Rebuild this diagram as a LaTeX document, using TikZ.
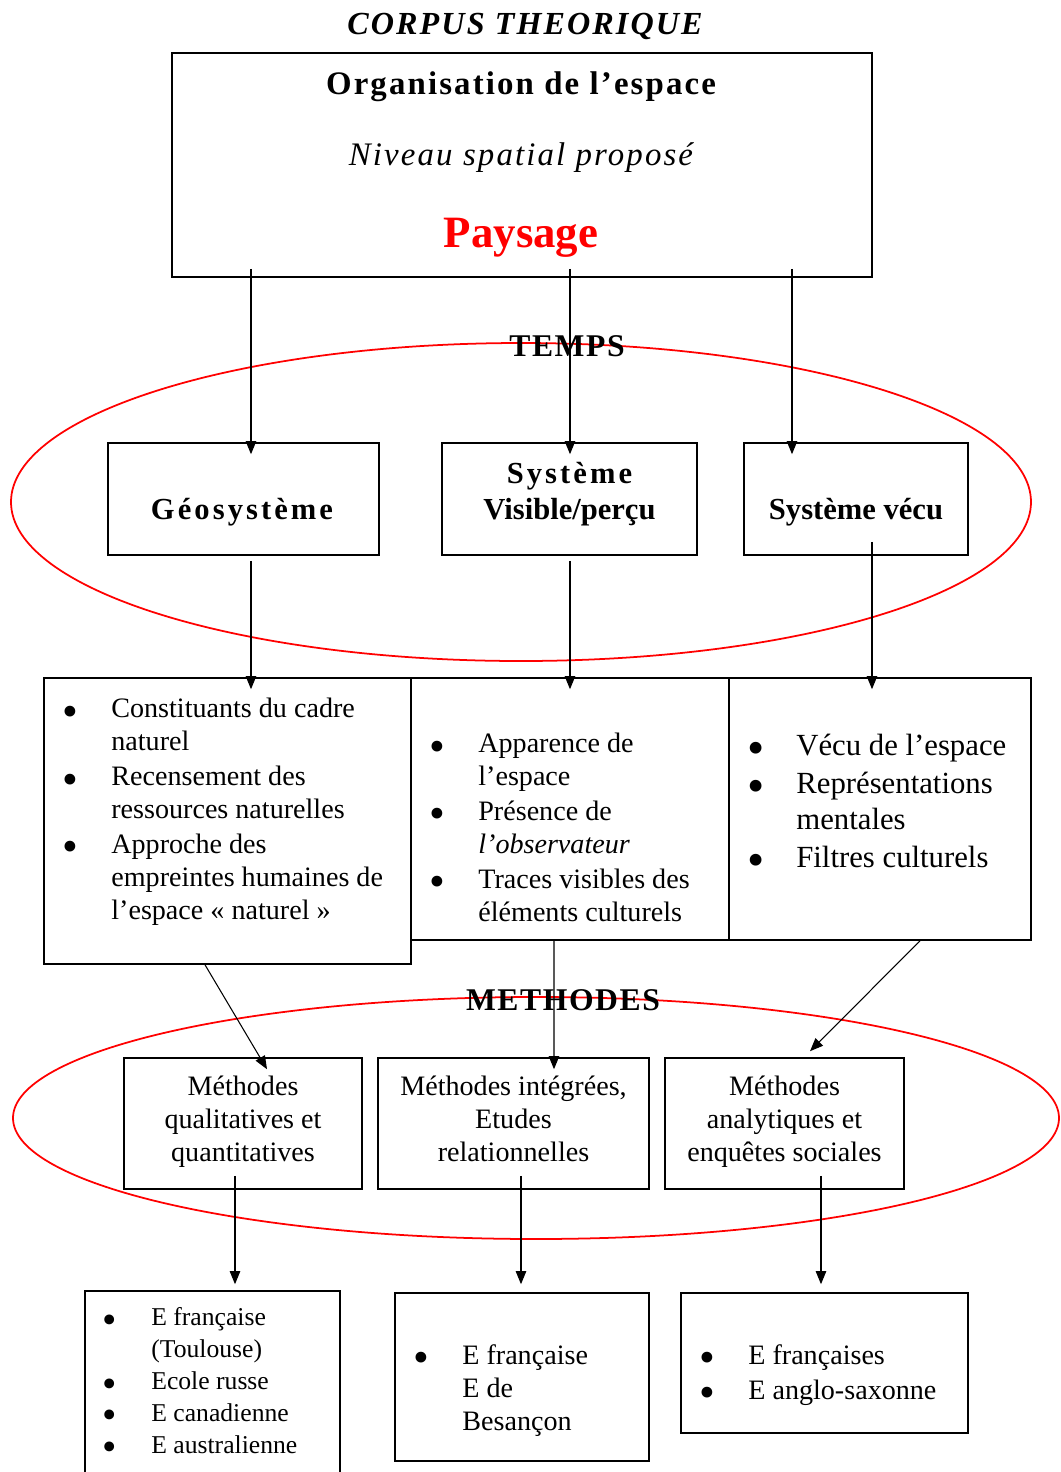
\documentclass[tikz,border=0pt]{standalone}
\usepackage{fontspec}
\usepackage{graphicx}
\setmainfont{Liberation Serif}
\newfontfamily\spacedfont[LetterSpace=5]{Liberation Serif}
\newfontfamily\widerfont[LetterSpace=6.5]{Liberation Serif}
\newfontfamily\widefont[LetterSpace=10]{Liberation Serif}
\usetikzlibrary{arrows.meta,calc}
\newlength\px
\setlength\px{0.02cm}
\newcommand\bul{\makebox[46\px][l]{\hspace{-3\px}\smash{\raisebox{-0.3em}{\scalebox{1.6}{\textbullet}}}}}
\newcommand\ind{\hspace*{46\px}}

\begin{document}
\begin{tikzpicture}[x=0.02cm,y=-0.02cm,
  every node/.style={inner sep=0pt},
  box/.style 2 args={draw,line width=0.9pt,minimum width=#1\px,minimum height=#2\px},
  ring/.style={draw=red,line width=1pt},
  arr/.style={-{Triangle[length=7.5pt,width=6pt]},line width=0.6pt},
  lst/.style={anchor=base west,align=left},
  head/.style={anchor=base,font=\widerfont\bfseries\fontsize{18.7}{22}\selectfont},
  sys/.style={anchor=base,align=center,font=\bfseries\fontsize{17.4}{20.4}\selectfont},
  meth/.style={anchor=base,align=center,font=\fontsize{16}{18.7}\selectfont}]
\useasboundingbox (0,0) rectangle (1061,1472);
\clip (0,0) rectangle (1061,1472);

% les deux ellipses
\draw[ring] (521,502) ellipse [x radius=510,y radius=159];
\draw[ring] (536,1118) ellipse [x radius=523,y radius=121];

% cadres
\node[box={700}{224}] (orga) at (522,165) {};
\node[box={271}{112}] (geo) at (243.5,499) {};
\node[box={255}{112}] (visible) at (569.5,499) {};
\node[box={224}{112}] (vecu) at (856,499) {};
\node[box={367}{286}] (naturel) at (227.5,821) {};
\node[box={318}{262}] (apparence) at (570,809) {};
\node[box={302}{262}] (mental) at (880,809) {};
\node[box={238}{131}] (qualit) at (243,1123.5) {};
\node[box={271}{131}] (integ) at (513.5,1123.5) {};
\node[box={239}{131}] (analyt) at (784.5,1123.5) {};
\node[box={255}{219}] (ecoleA) at (212.5,1400.5) {};
\node[box={254}{168}] (ecoleB) at (522,1377) {};
\node[box={287}{140}] (ecoleC) at (824.5,1363) {};

% titres
\node[head,font=\widerfont\bfseries\itshape\fontsize{18.3}{21}\selectfont] (tcorpus) at (525,34) {CORPUS THEORIQUE};
\node[head] (torga) at (521,94) {Organisation de l’espace};
\node[head,font=\widerfont\itshape\fontsize{18.7}{22}\selectfont] (tniveau) at (521,165) {Niveau spatial proposé};
\node[anchor=base,text=red,font=\bfseries\fontsize{25.5}{30}\selectfont] (tpaysage) at (521,247) {Paysage};
\node[head,font=\spacedfont\bfseries\fontsize{18}{21}\selectfont] (ttemps) at (567,356) {TEMPS};
\node[head,font=\spacedfont\bfseries\fontsize{18}{21}\selectfont] (tmethodes) at (563,1010) {METHODES};

% systemes
\node[sys,font=\widefont\bfseries\fontsize{17.4}{20.4}\selectfont] (tgeo) at (242,519) {Géosystème};
\node[sys] (tvisible) at (569.5,519) {{\widefont Système}\\Visible/perçu};
\node[sys] (tvecu) at (856,519) {Système vécu};

% listes (base = derniere ligne)
\node[lst,font=\fontsize{16}{18.7}\selectfont] (lnaturel) at (65,919)
  {\bul Constituants du cadre\\\ind naturel\\[2\px]\bul Recensement des\\\ind ressources naturelles\\[2\px]\bul Approche des\\\ind empreintes humaines de\\\ind l’espace « naturel »};
\node[lst,font=\fontsize{16}{18.7}\selectfont] (lapparence) at (432,921)
  {\bul Apparence de\\\ind l’espace\\[2\px]\bul Présence de\\\ind \textit{l’observateur}\\[2\px]\bul Traces visibles des\\\ind éléments culturels};
\node[lst,font=\fontsize{17.5}{20.4}\selectfont] (lmental) at (750,867)
  {\bul Vécu de l’espace\\[2\px]\bul Représentations\\\ind mentales\\[2\px]\bul Filtres culturels};

% methodes
\node[meth] (tqualit) at (243,1161) {Méthodes\\qualitatives et\\quantitatives};
\node[meth] (tinteg) at (513.5,1161) {Méthodes intégrées,\\Etudes\\relationnelles};
\node[meth] (tanalyt) at (784.5,1161) {Méthodes\\analytiques et\\enquêtes sociales};

% ecoles
\node[lst,font=\fontsize{14.6}{18.1}\selectfont] (lecoleA) at (105,1453)
  {\bul E française\\\ind (Toulouse)\\\bul Ecole russe\\\bul E canadienne\\\bul E australienne};
\node[lst,font=\fontsize{16}{18.7}\selectfont] (lecoleB) at (416,1430)
  {\bul E française\\\ind E de\\\ind Besançon};
\node[lst,font=\fontsize{16}{19.8}\selectfont] (lecoleC) at (702,1399)
  {\bul E françaises\\\bul E anglo-saxonne};

% fleches
\draw[arr] ($(orga.south -| geo.north)+(7.5,-9)$) -- ($(geo.north)+(7.5,12)$);
\draw[arr] ($(orga.south -| visible.north)+(0.5,-9)$) -- ($(visible.north)+(0.5,12)$);
\draw[arr] ($(orga.south -| vecu.north)+(-64,-9)$) -- ($(vecu.north)+(-64,12)$);
\draw[arr] ($(geo.south)+(7.5,5)$) -- ($(naturel.north -| geo.south)+(7.5,12)$);
\draw[arr] ($(visible.south)+(0.5,5)$) -- ($(apparence.north -| visible.south)+(0.5,12)$);
\draw[arr] ($(vecu.south)+(16,-14)$) -- ($(mental.north -| vecu.south)+(16,12)$);
\draw[arr] ($(naturel.south)+(-22.5,0)$) -- ($(qualit.north)+(24,12)$);
\draw[arr] ($(apparence.south)+(-16,0)$) -- ($(integ.north)+(40.5,12)$);
\draw[arr] ($(mental.south)+(40,0)$) -- ($(analyt.north)+(25.5,-6)$);
\draw[arr] ($(qualit.south)+(-8,-14)$) -- ($(ecoleA.north -| qualit.south)+(-8,-6)$);
\draw[arr] ($(integ.south)+(7.5,-14)$) -- ($(ecoleB.north -| integ.south)+(7.5,-8)$);
\draw[arr] ($(analyt.south)+(36.5,-14)$) -- ($(ecoleC.north -| analyt.south)+(36.5,-8)$);
\end{tikzpicture}
\end{document}
